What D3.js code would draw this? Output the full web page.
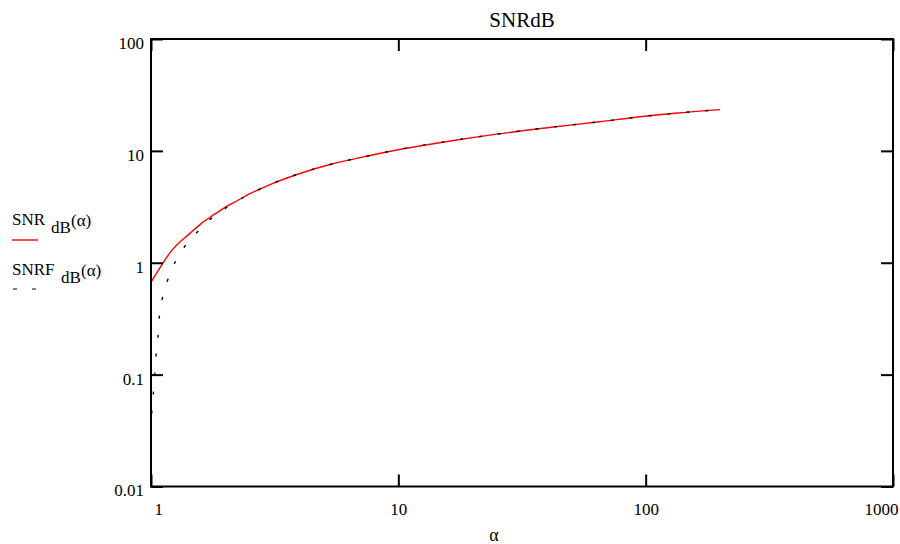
<!DOCTYPE html>
<html>
<head>
<meta charset="utf-8">
<script src="https://cdn.jsdelivr.net/npm/d3@7"></script>
<style>
  body { margin: 0; background: #fff; }
  svg { display: block; }
  svg text { font-family: "Liberation Serif", "Times New Roman", Times, "DejaVu Serif", serif !important; fill: #000; }
</style>
</head>
<body>
<svg id="chart" width="900" height="544"></svg>
<script>
// ---- data ----
const title = "SNRdB";
const xLabel = "α";
const xTicks = [1, 10, 100, 1000];
const xTickLabels = ["1", "10", "100", "1000"];
const yTicks = [0.01, 0.1, 1, 10, 100];
const yTickLabels = ["0.01", "0.1", "1", "10", "100"];

// SNR_dB(α)
const alphaSNR = [1.0, 1.14, 1.19, 1.44, 1.6, 1.76, 1.87, 2.02, 2.25, 2.51, 3.03, 4.0, 5.29, 7.0, 9.85, 16, 25, 40, 65, 95, 131, 200];
const valSNR   = [0.67, 1.06, 1.22, 1.84, 2.25, 2.61, 2.85, 3.19, 3.62, 4.14, 5.0, 6.28, 7.55, 8.7, 10.19, 12.2, 14.1, 16.1, 18.2, 20.2, 21.7, 23.4];

// SNRF_dB(α)
const alphaSNRF = [1.0065, 1.022, 1.048, 1.067, 1.08, 1.111, 1.168, 1.251, 1.373, 1.539, 1.748, 2.036, 2.25, 2.51, 3.03, 4.0, 5.29, 7.0, 9.85, 16, 25, 40, 65, 95, 131, 200];
const valSNRF   = [0.045, 0.067, 0.147, 0.219, 0.324, 0.479, 0.70, 1.01, 1.41, 1.88, 2.48, 3.15, 3.6, 4.12, 5.0, 6.28, 7.55, 8.7, 10.19, 12.2, 14.1, 16.1, 18.2, 20.2, 21.7, 23.4];

// ---- layout ----
const L = 151, R = 893, T = 39, B = 486.5;
const FONT = '"Liberation Serif", "Times New Roman", Times, serif';
const svg = d3.select("#chart");

const x = d3.scaleLog().domain([1, 1000]).range([L, R]);
const y = d3.scaleLog().domain([0.01, 100]).range([B, T]);

// clip
svg.append("defs").append("clipPath").attr("id", "clip")
  .append("rect").attr("x", L).attr("y", T).attr("width", R - L).attr("height", B - T);

// series
const lineGen = d3.line().x(d => x(d[0])).y(d => y(d[1])).curve(d3.curveMonotoneX);
const snr = alphaSNR.map((a, i) => [a, valSNR[i]]);
const snrf = alphaSNRF.map((a, i) => [a, valSNRF[i]]);

const plot = svg.append("g").attr("clip-path", "url(#clip)");
plot.append("path").datum(snr).attr("d", lineGen)
  .attr("fill", "none").attr("stroke", "#ff0000").attr("stroke-width", 1.4);
plot.append("path").datum(snrf).attr("d", lineGen)
  .attr("fill", "none").attr("stroke", "#000").attr("stroke-width", 1.4)
  .attr("stroke-dasharray", "3,16");

// axes
const fontSize = 17;
const leftAxis = d3.axisLeft(y).tickValues(yTicks)
  .tickFormat((d, i) => yTickLabels[i]).tickSizeInner(-12).tickSizeOuter(0).tickPadding(7);
const gl = svg.append("g").attr("transform", `translate(${L},0)`).call(leftAxis);

const rightAxis = d3.axisRight(y).tickValues(yTicks).tickFormat("").tickSizeInner(-12).tickSizeOuter(0);
const gr = svg.append("g").attr("transform", `translate(${R},0)`).call(rightAxis);

const bottomAxis = d3.axisBottom(x).tickValues(xTicks)
  .tickFormat((d, i) => xTickLabels[i]).tickSizeInner(-12).tickSizeOuter(0).tickPadding(16);
const gb = svg.append("g").attr("transform", `translate(0,${B})`).call(bottomAxis);

const topAxis = d3.axisTop(x).tickValues(xTicks).tickFormat("").tickSizeInner(-12).tickSizeOuter(0);
const gt = svg.append("g").attr("transform", `translate(0,${T})`).call(topAxis);

[gl, gr, gb, gt].forEach(g => {
  g.attr("font-family", null).attr("font-size", null);
  g.select(".domain").remove();
  g.selectAll(".tick line").attr("stroke", "#000").attr("stroke-width", 2);
  g.selectAll("text").style("font-family", FONT)
    .style("font-size", fontSize + "px").attr("fill", "#000");
});
gl.selectAll(".tick text").attr("transform", "translate(0,4)");
gb.selectAll(".tick text").each(function (d, i) {
  const t = d3.select(this);
  if (i === 0) t.attr("text-anchor", "start").attr("x", 3);
  else if (i === xTicks.length - 1) t.attr("text-anchor", "end").attr("x", 5);
});

// frame
svg.append("rect").attr("x", L).attr("y", T).attr("width", R - L).attr("height", B - T)
  .attr("fill", "none").attr("stroke", "#000").attr("stroke-width", 2);

// title and axis label
svg.append("text").attr("x", 522).attr("y", 27).attr("text-anchor", "middle")
  .style("font-family", FONT).style("font-size", "21px").text(title);
svg.append("text").attr("x", 494).attr("y", 541).attr("text-anchor", "middle")
  .style("font-family", FONT).style("font-size", "18px").text(xLabel);

// legend
function legendLabel(xp, yBase, main, sub, xSub, xArg) {
  const t = svg.append("text").style("font-family", FONT).style("font-size", fontSize + "px");
  t.append("tspan").attr("x", xp).attr("y", yBase).text(main);
  t.append("tspan").attr("x", xSub).attr("y", yBase + 8).text(sub);
  t.append("tspan").attr("x", xArg).attr("y", yBase + 1).text("(α)");
}
legendLabel(12, 225, "SNR", "dB", 51, 71);
svg.append("line").attr("x1", 12).attr("x2", 38).attr("y1", 240).attr("y2", 240)
  .attr("stroke", "#ff0000").attr("stroke-width", 1.4);
legendLabel(12, 275, "SNRF", "dB", 61, 81);
svg.append("line").attr("x1", 13).attr("x2", 40).attr("y1", 289).attr("y2", 289)
  .attr("stroke", "#000").attr("stroke-width", 1.2).attr("stroke-dasharray", "4,15");
</script>
</body>
</html>
